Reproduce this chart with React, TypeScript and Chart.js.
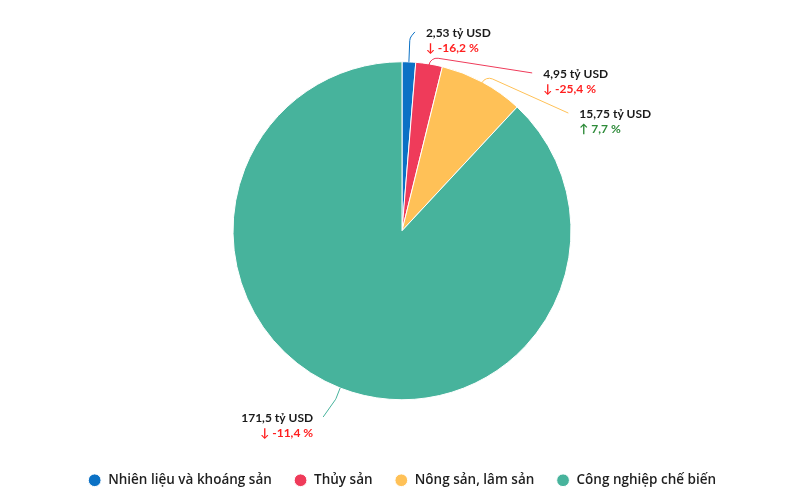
import React, { useEffect, useRef } from "react";
import { Chart, registerables } from "chart.js";

Chart.register(...registerables);

const categories = ["Nhiên liệu và khoáng sản", "Thủy sản", "Nông sản, lâm sản", "Công nghiệp chế biến"];
const values = [2.53, 4.95, 15.75, 171.5];
const valueLabels = ["2,53 tỷ USD", "4,95 tỷ USD", "15,75 tỷ USD", "171,5 tỷ USD"];
const changes = [-16.2, -25.4, 7.7, -11.4];
const changeLabels = ["↓ -16,2 %", "↓ -25,4 %", "↑ 7,7 %", "↓ -11,4 %"];
const colors = ["#0b71c5", "#ef3b5a", "#ffc157", "#47b39c"];

// connector layout: end offset from slice edge, elbow length along the radius
const labelLayout = [
  { dx: 6, dy: -30, elbow: 24 },
  { dx: 103, dy: 9, elbow: 7 },
  { dx: 86, dy: 31, elbow: 7 },
  { dx: -17, dy: 29, elbow: 12 },
];

const labelPlugin = {
  id: "sliceLabels",
  afterDatasetsDraw(chart: any) {
    const ctx = chart.ctx;
    const meta = chart.getDatasetMeta(0);
    ctx.save();
    meta.data.forEach((arc: any, i: number) => {
      const p = arc.getProps(["x", "y", "startAngle", "endAngle", "outerRadius"], true);
      const mid = (p.startAngle + p.endAngle) / 2;
      const c = Math.cos(mid);
      const s = Math.sin(mid);
      const ex = p.x + c * p.outerRadius;
      const ey = p.y + s * p.outerRadius;
      const L = labelLayout[i];
      const bx = ex + c * L.elbow;
      const by = ey + s * L.elbow;
      const tx = ex + L.dx;
      const ty = ey + L.dy;
      ctx.beginPath();
      ctx.moveTo(ex, ey);
      ctx.arcTo(bx, by, tx, ty, 8);
      ctx.lineTo(tx, ty);
      ctx.strokeStyle = colors[i];
      ctx.lineWidth = 1;
      ctx.stroke();

      const right = tx >= p.x;
      ctx.textAlign = right ? "left" : "right";
      ctx.textBaseline = "middle";
      const x = right ? tx + 11 : tx - 10;
      ctx.font = "bold 12px Lato, 'Open Sans', sans-serif";
      ctx.fillStyle = "#1a1a1a";
      ctx.fillText(valueLabels[i], x, ty + 1);
      ctx.fillStyle = changes[i] < 0 ? "#ff1f1f" : "#2e8b3a";
      ctx.fillText(changeLabels[i], x, ty + 16);
    });
    ctx.restore();
  },
};

export default function App() {
  const ref = useRef<HTMLCanvasElement | null>(null);
  useEffect(() => {
    if (!ref.current) return;
    const chart = new Chart(ref.current, {
      type: "pie",
      data: {
        labels: categories,
        datasets: [
          {
            data: values,
            backgroundColor: colors,
            borderColor: "#ffffff",
            borderWidth: 1,
            radius: 169,
          } as any,
        ],
      },
      options: {
        animation: false,
        responsive: true,
        maintainAspectRatio: false,
        layout: { padding: { top: 10, left: 4, right: 0, bottom: 3 } },
        plugins: {
          tooltip: { enabled: false },
          legend: {
            position: "bottom",
            labels: {
              usePointStyle: true,
              pointStyle: "circle",
              boxHeight: 9,
              padding: 22,
              color: "#1f1f1f",
              font: { family: "'Open Sans', sans-serif", size: 13.5, weight: "600" },
            },
          },
        },
      },
      plugins: [labelPlugin],
    });
    return () => chart.destroy();
  }, []);
  return (
    <div style={{ position: "fixed", left: 0, top: 0, width: 800, height: 500, background: "#fff" }}>
      <canvas ref={ref} />
    </div>
  );
}
